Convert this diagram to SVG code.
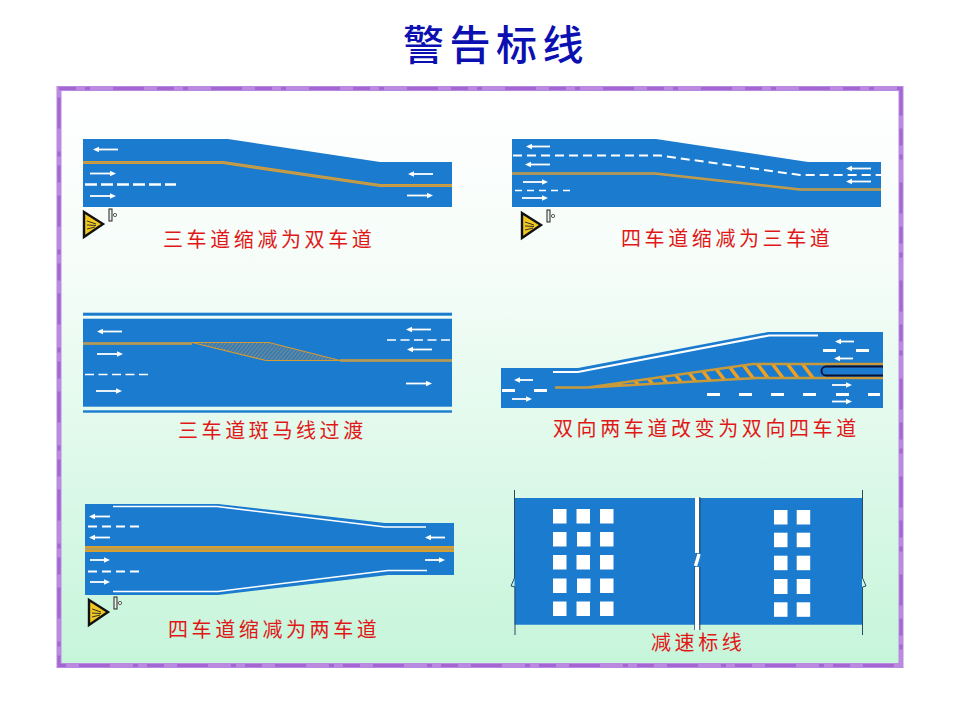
<svg xmlns="http://www.w3.org/2000/svg" width="960" height="720" viewBox="0 0 960 720">
<style>
.road{fill:#1b7bcf}
.lane{fill:none;stroke:#fff;stroke-width:2}
.dash{fill:none;stroke:#fff;stroke-width:2;stroke-dasharray:9 5}
.wide{fill:none;stroke:#fff;stroke-width:2.4;stroke-dasharray:12 4}
.y1{fill:none;stroke:#d69c32;stroke-width:3.2}
.y2{fill:none;stroke:#9c9a78;stroke-width:.7}
.arr{fill:none;stroke:#fff;stroke-width:1.8;marker-end:url(#head)}
.sq{fill:#fff}
.lbl{font-family:"Noto Sans CJK SC","Noto Sans",sans-serif;font-size:20px;fill:#e01818;letter-spacing:3.6px}
.title{font-family:"Noto Sans CJK SC","Noto Sans",sans-serif;font-size:41px;font-weight:500;fill:#0c10b0;letter-spacing:5.5px}
</style>
<defs>
<linearGradient id="bg" x1="0" y1="0" x2="0" y2="1">
<stop offset="0" stop-color="#ffffff"/><stop offset=".3" stop-color="#f6fdf9"/><stop offset="1" stop-color="#c6f5da"/>
</linearGradient>
<marker id="head" markerUnits="userSpaceOnUse" markerWidth="8" markerHeight="8" refX="1" refY="3" orient="auto">
<path d="M0,0.3 L6,3 L0,5.7 Z" fill="#fff"/>
</marker>
<pattern id="hatch" patternUnits="userSpaceOnUse" width="3" height="3" patternTransform="rotate(40)">
<rect width="3" height="3" fill="#2f78b8"/><rect width="1.3" height="3" fill="#6f8d96"/>
</pattern>
<clipPath id="wedge"><path d="M588,388 L753,364 L883,364 L815,378 L757,378 Z"/></clipPath>
<g id="sign">
<path d="M0,0 L19,12 L0,25 Z" fill="#f2c81e" stroke="#111" stroke-width="2.4" stroke-linejoin="miter"/>
<path d="M3,9 L12,12 M3,13 L12,13.500 M3,17 L11,15" stroke="#333" stroke-width="1" fill="none"/>
<rect x="25" y="-3" width="3" height="12" fill="#eee" stroke="#222" stroke-width="1"/>
<circle cx="31" cy="3" r="1.600" fill="#fff" stroke="#333" stroke-width=".8"/>
</g>
</defs>

<rect width="960" height="720" fill="#fff"/>
<g id="frame">
<rect x="59" y="88.500" width="842" height="577" fill="url(#bg)" stroke="#b98ae0" stroke-width="5"/>
<rect x="59" y="88.500" width="842" height="577" fill="none" stroke="#a366d2" stroke-width="3" stroke-dasharray="17 9 5 23 31 13"/>
</g>
<text class="title" x="403" y="60">警告标线</text>

<g id="panel-1">
<path class="road" d="M83,139 H228 L380,162 H452 V207 H83 Z"/>
<path class="y1" d="M83,162.500 H223 L380,185.500 H452"/>
<path class="y2" d="M83,162.500 H223 L380,185.500 H452"/>
<path class="wide" d="M85,184.500 H176"/>
<path class="arr" d="M118,149.500 H98"/>
<path class="arr" d="M90,173.500 H111"/>
<path class="arr" d="M90,196 H111"/>
<path class="arr" d="M433,174 H413"/>
<path class="arr" d="M407,195.500 H428"/>
<use href="#sign" x="84" y="212"/>
<text class="lbl" x="163" y="247">三车道缩减为双车道</text>
</g>

<g id="panel-2">
<path class="road" d="M512,139 H656 L808,162 H881 V207 H512 Z"/>
<path class="dash" d="M513,155.500 H660 L800,175 H881"/>
<path class="y1" style="stroke-width:2.600" d="M512,173.500 H655 L800,189.500 H881"/>
<path class="y2" d="M512,173.500 H655 L800,189.500 H881"/>
<path class="dash" style="stroke-width:1.600;stroke-dasharray:7 5" d="M515,190.500 H570"/>
<path class="arr" d="M550,146.500 H531"/>
<path class="arr" d="M550,164.500 H530"/>
<path class="arr" d="M523,182 H543"/>
<path class="arr" d="M522,198 H543"/>
<path class="arr" d="M871,168.500 H851"/>
<path class="arr" d="M871,181.500 H851"/>
<use href="#sign" x="522" y="213"/>
<text class="lbl" x="621" y="246">四车道缩减为三车道</text>
</g>

<g id="panel-3">
<rect class="road" x="83" y="312.700" width="369" height="3"/>
<rect class="road" x="83" y="318.700" width="369" height="88"/>
<rect class="road" x="83" y="410.300" width="369" height="2.400"/>
<path d="M192,342.500 H269 L340,360.500 H266 Z" fill="url(#hatch)" stroke="#d69a34" stroke-width="1.200"/>
<path class="y1" style="stroke-width:2.600" d="M83,343.500 H192"/>
<path class="y2" d="M83,343.500 H192"/>
<path class="y1" style="stroke-width:2.600" d="M340,360.500 H452"/>
<path class="y2" d="M340,360.500 H452"/>
<path class="dash" style="stroke-width:1.600;stroke-dasharray:9 4.500" d="M85,374.500 H150"/>
<path class="dash" style="stroke-width:1.600;stroke-dasharray:9 4.500" d="M387,340 H452"/>
<path class="arr" d="M122,331.500 H102"/>
<path class="arr" d="M97,354 H118"/>
<path class="arr" d="M96,391 H117"/>
<path class="arr" d="M431,329.500 H411"/>
<path class="arr" d="M432,349.500 H412"/>
<path class="arr" d="M406,383.500 H427"/>
<text class="lbl" x="178" y="438">三车道斑马线过渡</text>
</g>

<g id="panel-4">
<path class="road" d="M501,368 H578 L768,332 H883 V408 H501 Z"/>
<path fill="none" stroke="#fff" stroke-width="2.200" d="M553,372 H578 L769,335.500 H818"/>
<g clip-path="url(#wedge)" stroke="#f0a020" stroke-width="3.500">
<path d="M802.500,364 L822,390 M787.500,364 L807,390 M772.500,364 L792,390 M757.500,364 L777,390 M742.500,364 L762,390 M727.500,364 L747,390 M712.500,364 L732,390 M697.500,364 L717,390 M682.500,364 L702,390 M667.500,364 L687,390 M652.500,364 L672,390 M637.500,364 L657,390 M622.500,364 L642,390"/>
<path d="M588,388 L620,380 L625,388 Z" fill="#f0a020" stroke="none"/>
</g>
<path fill="none" stroke="#c99a3a" stroke-width="2.400" d="M555,387.500 H588 L753,364 H883 M588,387.500 L757,378 H883"/>
<path d="M883,366.500 H826 A4.500,4.500 0 0 0 826,375.500 H883" fill="#1b7bcf" stroke="#0a1030" stroke-width="1.800"/>
<g class="sq">
<rect x="502" y="389" width="13" height="3"/><rect x="534" y="389" width="13" height="3"/>
<rect x="707" y="393" width="13" height="3"/><rect x="739" y="393" width="13" height="3"/>
<rect x="771" y="393" width="13" height="3"/><rect x="803" y="393" width="13" height="3"/>
<rect x="836" y="393" width="13" height="3"/><rect x="868" y="393" width="12" height="3"/>
<rect x="823" y="349" width="13" height="3"/><rect x="856" y="349" width="13" height="3"/>
</g>
<path class="arr" d="M533,380 H519"/>
<path class="arr" d="M512,399 H527"/>
<path class="arr" d="M854,341.500 H840"/>
<path class="arr" d="M853,358.500 H839"/>
<path class="arr" d="M832,385 H847"/>
<path class="arr" d="M832,401.500 H847"/>
<text class="lbl" x="553" y="436">双向两车道改变为双向四车道</text>
</g>

<g id="panel-5">
<path class="road" d="M85,504 H218 L385,523 H454 V575 H388 L218,595 H85 Z"/>
<path class="lane" style="stroke-width:1.600" d="M113,506.500 H217 L385,527 H426"/>
<path class="lane" style="stroke-width:1.600" d="M113,591.500 H218 L388,570.500 H427"/>
<rect x="85" y="546" width="369" height="6" fill="#d6a030"/>
<rect x="85" y="548.600" width="369" height=".8" fill="#7f95a0"/>
<path class="dash" d="M88,526.500 H141"/>
<path class="dash" d="M88,571.500 H141"/>
<path class="arr" d="M110,516.500 H94"/>
<path class="arr" d="M110,537.500 H94"/>
<path class="arr" d="M90,560 H105"/>
<path class="arr" d="M90,582 H105"/>
<path class="arr" d="M445,537.500 H430"/>
<path class="arr" d="M425,560 H440"/>
<use href="#sign" x="89" y="600"/>
<text class="lbl" x="168" y="637">四车道缩减为两车道</text>
</g>

<g id="panel-6">
<path class="road" d="M514.500,498 H862 V624.700 H514.500 Z"/>
<rect x="695" y="497" width="4.500" height="56" fill="#fff"/>
<rect x="695" y="567" width="4.500" height="63" fill="#fff"/>
<path d="M699.800,497 V553 M699.800,567 V630" stroke="#16304a" stroke-width="1"/>
<path d="M694.500,567 L697,553 M694.500,630 V567" stroke="#2b5a80" stroke-width=".8" fill="none"/>
<path d="M695.500,566 L699,554" stroke="#fff" stroke-width="3.400"/>
<path fill="none" stroke="#2a4a60" stroke-width="1" d="M514.500,490 V578 L511,586 L515,587 V635 M862.500,490 V578 L866,586 L862.500,587 V635"/>
<g class="sq">
<rect x="553" y="509" width="13.500" height="14.500"/><rect x="576.500" y="509" width="13.500" height="14.500"/><rect x="600" y="509" width="13.500" height="14.500"/>
<rect x="553" y="532" width="13.500" height="14.500"/><rect x="577" y="532" width="13.500" height="14.500"/><rect x="600" y="532" width="13.500" height="14.500"/>
<rect x="553" y="555" width="13.500" height="14.500"/><rect x="576.500" y="555" width="13.500" height="14.500"/><rect x="600" y="555" width="13.500" height="14.500"/>
<rect x="553" y="578.500" width="13.500" height="14.500"/><rect x="577" y="578.500" width="13.500" height="14.500"/><rect x="600" y="578.500" width="13.500" height="14.500"/>
<rect x="553" y="601.500" width="13.500" height="14.500"/><rect x="576.500" y="601.500" width="13.500" height="14.500"/><rect x="600" y="601.500" width="13.500" height="14.500"/>
<rect x="774" y="510" width="13.500" height="14.500"/><rect x="796.700" y="510" width="13.500" height="14.500"/>
<rect x="774" y="532.700" width="13.500" height="14.500"/><rect x="796.700" y="532.700" width="13.500" height="14.500"/>
<rect x="774" y="555.700" width="13.500" height="14.500"/><rect x="796.700" y="555.700" width="13.500" height="14.500"/>
<rect x="774" y="579" width="13.500" height="15"/><rect x="796.700" y="579" width="13.500" height="15"/>
<rect x="774" y="602.300" width="13.500" height="14.500"/><rect x="796.700" y="602.300" width="13.500" height="14.500"/>
</g>
<text class="lbl" x="651" y="650">减速标线</text>
</g>
</svg>
